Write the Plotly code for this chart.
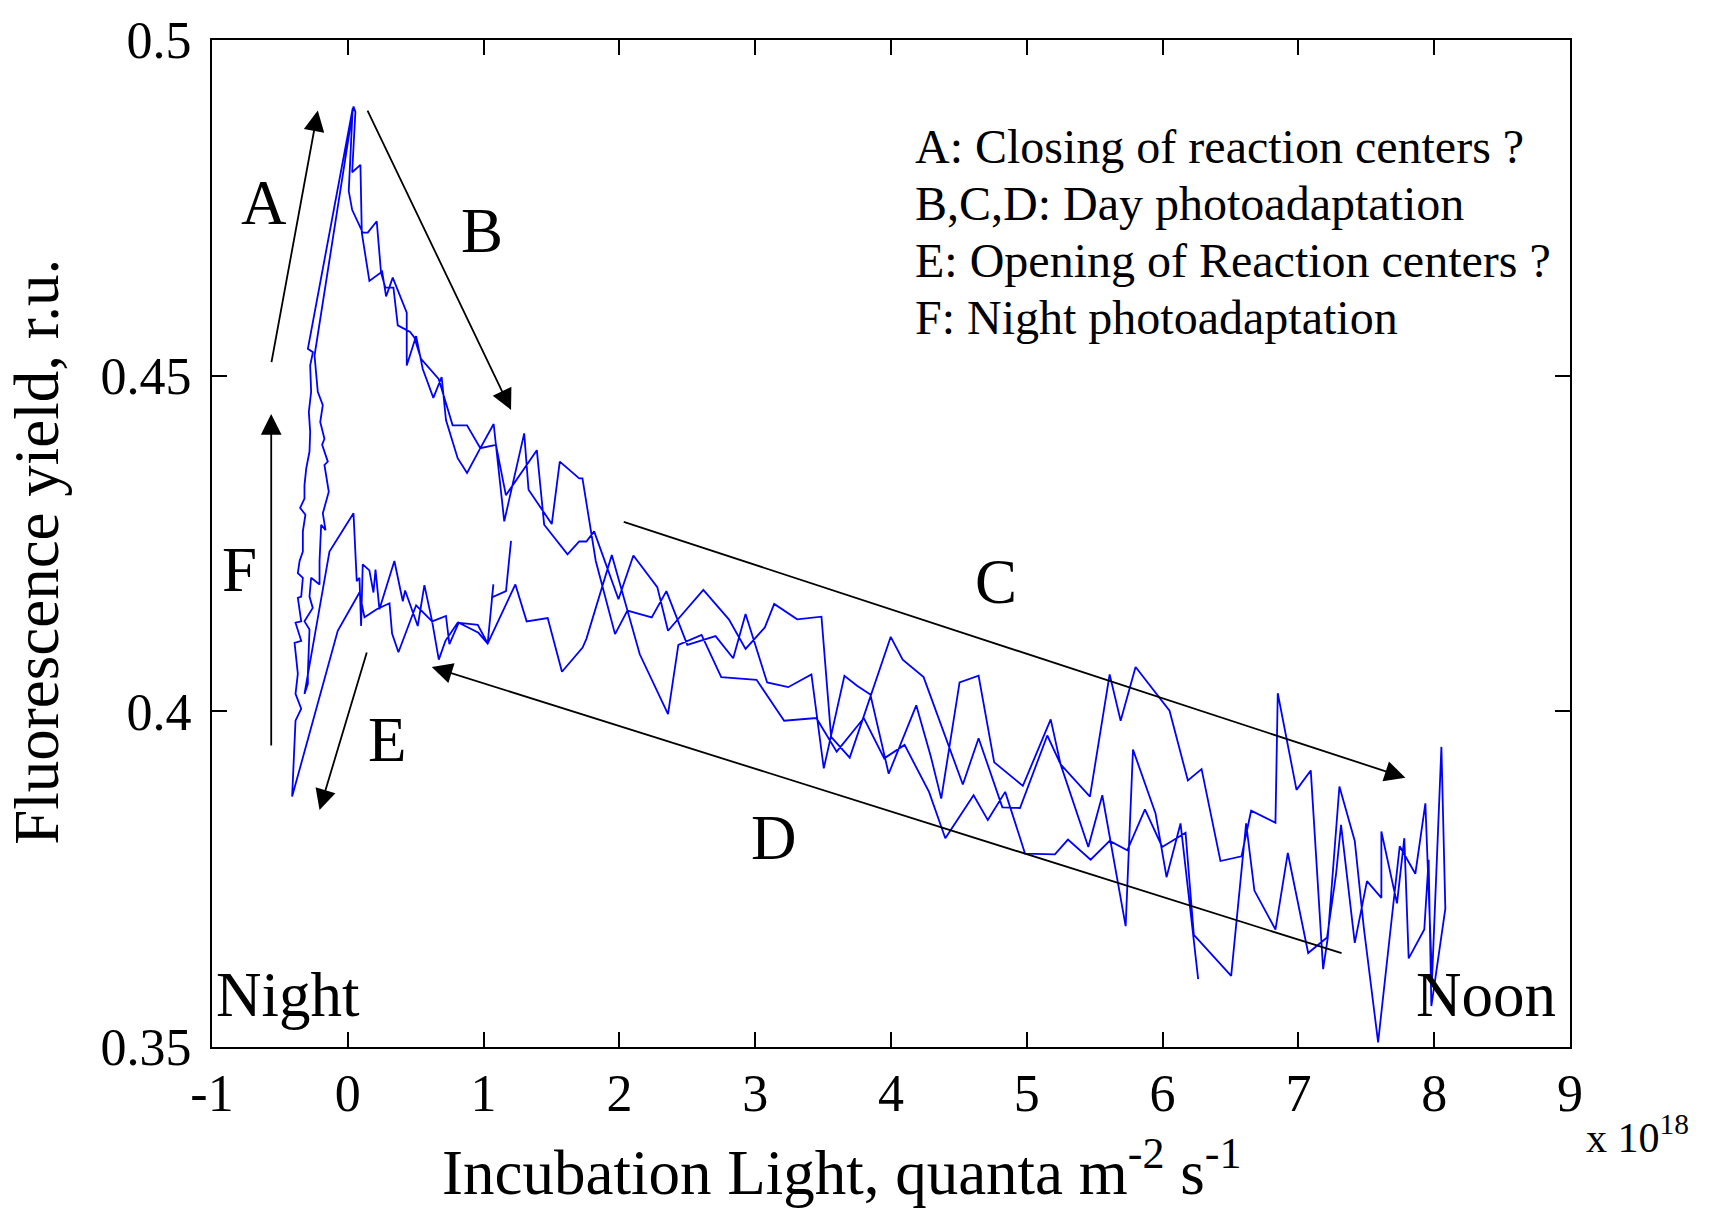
import plotly.graph_objects as go

# ---------------- data (light x 1e18 quanta m-2 s-1, fluorescence yield r.u.) -------------
# one continuous record, split into named segments in travel order
w1_x = [1.202, 1.165, 1.062, 1.072, 1.030, 0.957, 0.809, 0.719, 0.670, 0.621, 0.564, 0.515,
        0.422, 0.405, 0.343, 0.233, 0.204, 0.189, 0.159, 0.110, 0.098, 0.086, 0.066]
w1_y = [0.4254, 0.4179, 0.4170, 0.4189, 0.4101, 0.4129, 0.4132, 0.4105, 0.4077, 0.4134, 0.4188, 0.4127,
        0.4180, 0.4164, 0.4224, 0.4152, 0.4211, 0.4177, 0.4210, 0.4219, 0.4127, 0.4199, 0.4194]

e1_x = [0.042, -0.135, -0.319]
e1_y = [0.4295, 0.4238, 0.4026]

f1_x = [-0.294, -0.294, -0.282, -0.319, -0.258, -0.282, -0.270, -0.208, -0.208, -0.196, -0.164, -0.184,
        -0.164, -0.140, -0.172, -0.147, -0.189, -0.172, -0.203, -0.184, -0.221, -0.233, -0.245]
f1_y = [0.4041, 0.4056, 0.4122, 0.4134, 0.4154, 0.4171, 0.4199, 0.4189, 0.4224, 0.4278, 0.4270, 0.4295,
        0.4310, 0.4327, 0.4367, 0.4372, 0.4397, 0.4406, 0.4431, 0.4456, 0.4476, 0.4510, 0.4530]

b1_x = [0.042, 0.056, 0.032, 0.093, 0.103, 0.159, 0.253, 0.282, 0.331, 0.434, 0.434, 0.503, 0.552,
        0.630, 0.691, 0.723, 0.809, 0.878, 0.976, 1.074, 1.152, 1.299, 1.331, 1.502, 1.561, 1.704]
b1_y = [0.4901, 0.4893, 0.4803, 0.4814, 0.4713, 0.4641, 0.4655, 0.4618, 0.4646, 0.4594, 0.4515, 0.4559, 0.4510,
        0.4467, 0.4498, 0.4434, 0.4377, 0.4355, 0.4392, 0.4428, 0.4283, 0.4414, 0.4330, 0.4279, 0.4372, 0.4347]

cu_x = [1.728, 1.826, 1.968, 2.059, 2.238, 2.346, 2.500, 2.708, 2.838, 2.929, 3.088, 3.243, 3.414,
        3.505, 3.657, 3.750, 3.848, 3.983, 4.186, 4.294, 4.370, 4.505, 4.645, 4.760, 4.971, 5.176,
        5.249, 5.465, 5.610, 5.691, 5.801, 6.051, 6.186, 6.287, 6.426, 6.581, 6.652, 6.831, 6.848,
        6.986, 7.091, 7.182]
cu_y = [0.4347, 0.4224, 0.4115, 0.4150, 0.4140, 0.4179, 0.4099, 0.4112, 0.4079, 0.4145, 0.4043, 0.4036, 0.4055,
        0.3915, 0.4053, 0.4038, 0.4025, 0.3907, 0.4009, 0.3932, 0.3870, 0.4043, 0.4053, 0.3924, 0.3889, 0.3988,
        0.3921, 0.3873, 0.4055, 0.3986, 0.4066, 0.4001, 0.3897, 0.3914, 0.3777, 0.3784, 0.3852, 0.3834, 0.4027,
        0.3883, 0.3912, 0.3616]

noon_x = [7.216, 7.302, 7.415, 7.482, 7.587, 7.746, 7.861, 7.935, 7.984, 8.053, 8.082, 7.979, 7.959, 7.927]
noon_y = [0.3662, 0.3888, 0.3807, 0.3677, 0.3507, 0.3799, 0.3758, 0.3863, 0.3601, 0.3947, 0.3706, 0.3561, 0.3779, 0.3675]

dl_x = [7.812, 7.780, 7.726, 7.611, 7.611, 7.505, 7.415, 7.314, 7.277, 7.211, 7.072, 6.922, 6.831,
        6.676, 6.615, 6.505, 6.230, 6.169, 5.997, 5.870, 5.740, 5.610, 5.470, 5.303, 5.207, 4.987,
        4.951, 4.841, 4.713, 4.608, 4.400, 4.280, 4.100, 3.950, 3.800, 3.600, 3.450, 3.213, 3.010,
        2.860, 2.750, 2.605, 2.434, 2.358, 2.150, 1.944, 1.757, 1.729, 1.577, 1.472, 1.317, 1.234, 1.165]
dl_y = [0.3632, 0.3811, 0.3714, 0.3821, 0.3722, 0.3747, 0.3655, 0.3831, 0.3757, 0.3663, 0.3640, 0.3789, 0.3675,
        0.3733, 0.3833, 0.3606, 0.3667, 0.3819, 0.3798, 0.3854, 0.3793, 0.3807, 0.3779, 0.3809, 0.3787, 0.3788,
        0.3811, 0.3880, 0.3838, 0.3875, 0.3811, 0.3880, 0.3950, 0.3930, 0.3990, 0.3940, 0.3990, 0.3986, 0.4047,
        0.4049, 0.4051, 0.4114, 0.4099, 0.3996, 0.4085, 0.4233, 0.4108, 0.4095, 0.4059, 0.4139, 0.4134, 0.4189, 0.4160]

w2_x = [1.030, 0.962, 0.817, 0.748, 0.723, 0.621, 0.503, 0.373, 0.326, 0.307, 0.213, 0.123, 0.086]
w2_y = [0.4101, 0.4117, 0.4132, 0.4100, 0.4142, 0.4134, 0.4158, 0.4088, 0.4116, 0.4161, 0.4152, 0.4140, 0.4177]

e2_x = [-0.074, -0.410]
e2_y = [0.4120, 0.3873]

f2_x = [-0.385, -0.343, -0.385, -0.368, -0.392, -0.343, -0.385, -0.343, -0.368, -0.343, -0.331, -0.368,
        -0.355, -0.331, -0.331, -0.312, -0.351, -0.319, -0.319, -0.306, -0.282, -0.277, -0.287, -0.270,
        -0.277, -0.257, -0.294]
f2_y = [0.3986, 0.4004, 0.4026, 0.4056, 0.4102, 0.4105, 0.4132, 0.4134, 0.4169, 0.4171, 0.4199, 0.4206,
        0.4224, 0.4238, 0.4268, 0.4293, 0.4303, 0.4317, 0.4337, 0.4362, 0.4387, 0.4416, 0.4446, 0.4476,
        0.4515, 0.4535, 0.4540]

b2_x = [0.036, 0.007, 0.032, 0.110, 0.147, 0.213, 0.245, 0.277, 0.336, 0.368, 0.459, 0.490, 0.539,
        0.669, 0.772, 0.878, 0.976, 1.091, 1.164, 1.392, 1.446, 1.618, 1.704]
b2_y = [0.4898, 0.4775, 0.4747, 0.4713, 0.4713, 0.4730, 0.4653, 0.4631, 0.4631, 0.4575, 0.4565, 0.4557, 0.4525,
        0.4495, 0.4426, 0.4426, 0.4392, 0.4397, 0.4322, 0.4389, 0.4278, 0.4234, 0.4253]

cm_x = [1.757, 1.814, 1.993, 2.103, 2.279, 2.358, 2.618, 2.806, 2.929, 3.071, 3.140, 3.309, 3.488,
        3.559, 3.696, 3.998, 4.086, 4.240, 4.529, 4.645, 4.820, 4.950, 5.151, 5.249, 5.453, 5.556,
        5.728, 5.782, 5.948, 6.029, 6.132, 6.262]
cm_y = [0.4253, 0.4268, 0.4167, 0.4232, 0.4185, 0.4120, 0.4181, 0.4137, 0.4093, 0.4125, 0.4160, 0.4137, 0.4141,
        0.3962, 0.3931, 0.4111, 0.4077, 0.4051, 0.3891, 0.3960, 0.3857, 0.3856, 0.3964, 0.3921, 0.3798, 0.3875,
        0.3680, 0.3943, 0.3848, 0.3753, 0.3833, 0.3601]

x_ticks = [-1, 0, 1, 2, 3, 4, 5, 6, 7, 8, 9]
x_tick_text = ["-1", "0", "1", "2", "3", "4", "5", "6", "7", "8", "9"]
y_ticks = [0.35, 0.4, 0.45, 0.5]
y_tick_text = ["0.35", "0.4", "0.45", "0.5"]

legend_lines = ["A: Closing of reaction centers ?",
                "B,C,D: Day photoadaptation",
                "E: Opening of Reaction centers ?",
                "F: Night photoadaptation"]

# ---------------- build ----------------
segments = [(w1_x, w1_y), (e1_x, e1_y), (f1_x, f1_y), (b1_x, b1_y), (cu_x, cu_y),
            (noon_x, noon_y), (dl_x, dl_y), (w2_x, w2_y), (e2_x, e2_y), (f2_x, f2_y),
            (b2_x, b2_y), (cm_x, cm_y)]
X, Y = [], []
for sx, sy in segments:
    X += list(sx)
    Y += list(sy)

SERIF = "Liberation Serif, Times New Roman, serif"

fig = go.Figure()
fig.add_trace(go.Scatter(x=X, y=Y, mode="lines",
                         line=dict(color="#0000ff", width=1.8), showlegend=False,
                         hoverinfo="skip"))

annotations = []

def arrow(tip, tail):
    annotations.append(dict(x=tip[0], y=tip[1], ax=tail[0], ay=tail[1],
                            xref="x", yref="y", axref="x", ayref="y",
                            text="", showarrow=True, arrowhead=2, arrowsize=2.3,
                            arrowwidth=1.8, arrowcolor="black", standoff=0, startstandoff=0))

arrow((-0.221, 0.4895), (-0.564, 0.4518))   # A
arrow((1.202, 0.4449), (0.140, 0.4897))     # B
arrow((7.788, 0.3901), (2.021, 0.4283))     # C
arrow((0.618, 0.4066), (7.329, 0.3639))     # D
arrow((-0.208, 0.3853), (0.143, 0.4090))    # E
arrow((-0.564, 0.4443), (-0.564, 0.3947))   # F

def label(txt, x, y, size=63, xanchor="center"):
    annotations.append(dict(x=x, y=y, xref="x", yref="y", text=txt, showarrow=False,
                            xanchor=xanchor, yanchor="middle",
                            font=dict(family=SERIF, size=size, color="black")))

label("A", -0.617, 0.4757)
label("B", 0.989, 0.4716)
label("C", 4.776, 0.4193)
label("D", 3.138, 0.3812)
label("E", 0.285, 0.3957)
label("F", -0.795, 0.4211)
label("Night", -0.985, 0.3577, xanchor="left")
label("Noon", 8.91, 0.3577, xanchor="right")

for txt, yy in zip(legend_lines, [0.4841, 0.4756, 0.4671, 0.4586]):
    label(txt, 4.160, yy, size=48, xanchor="left")

# axis titles and exponent
annotations.append(dict(x=0.464, y=-0.121, xref="paper", yref="paper", showarrow=False,
                        text="Incubation Light, quanta m<sup>-2</sup> s<sup>-1</sup>",
                        xanchor="center", yanchor="middle",
                        font=dict(family=SERIF, size=63, color="black")))
annotations.append(dict(x=-0.129, y=0.4916, xref="paper", yref="paper", showarrow=False,
                        text="Fluorescence yield, r.u.", textangle=-90,
                        xanchor="center", yanchor="middle",
                        font=dict(family=SERIF, size=63, color="black")))
annotations.append(dict(x=1.0105, y=-0.087, xref="paper", yref="paper", showarrow=False,
                        text="x 10<sup>18</sup>", xanchor="left", yanchor="middle",
                        font=dict(family=SERIF, size=42, color="black")))

axis_common = dict(showline=True, linewidth=2, linecolor="black", mirror="ticks",
                   ticks="inside", ticklen=15, tickwidth=1.5, tickcolor="black",
                   showgrid=False, zeroline=False,
                   tickfont=dict(family=SERIF, size=52, color="black"))

fig.update_layout(
    width=1728, height=1212,
    margin=dict(l=212, r=158, t=36, b=165),
    paper_bgcolor="white", plot_bgcolor="white",
    xaxis=dict(range=[-1, 9], tickvals=x_ticks, ticktext=x_tick_text,
               ticklabelstandoff=0, **axis_common),
    yaxis=dict(range=[0.35, 0.5], tickvals=y_ticks, ticktext=y_tick_text,
               ticklabelstandoff=8, **axis_common),
    annotations=annotations,
)

fig.write_html("out.html")
